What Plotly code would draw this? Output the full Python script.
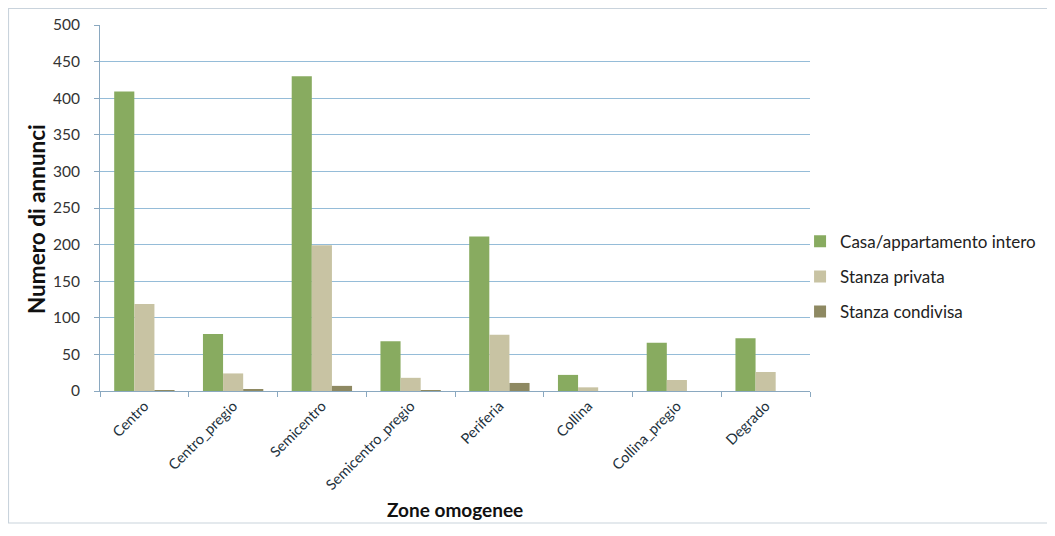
import plotly.graph_objects as go

categories = ["Centro", "Centro_pregio", "Semicentro", "Semicentro_pregio",
              "Periferia", "Collina", "Collina_pregio", "Degrado"]
casa_intera = [409, 78, 430, 68, 211, 22, 66, 72]
stanza_privata = [119, 24, 199, 18, 77, 5, 15, 26]
stanza_condivisa = [1, 2, 7, 0.5, 11, 0, 0, 0]

series_names = ["Casa/appartamento intero", "Stanza privata", "Stanza condivisa"]
series_values = [casa_intera, stanza_privata, stanza_condivisa]
colors = ["#88ab60", "#c8c3a3", "#8e8962"]

fig = go.Figure()
for name, vals, col in zip(series_names, series_values, colors):
    fig.add_trace(go.Bar(x=categories, y=vals, name=name, marker_color=col,
                         marker_line_width=0, legendgroup=name))

font_family = "Lato, Open Sans, sans-serif"
axis_col = "#8aa8c0"
fig.update_layout(
    width=1042, height=520,
    margin=dict(l=92, r=240, t=17, b=137, autoexpand=False),
    paper_bgcolor="white", plot_bgcolor="white",
    barmode="group", bargap=0.32, bargroupgap=0,
    font=dict(family=font_family, size=12, color="#2b2b2b"),
    showlegend=True,
    legend=dict(x=0.986, y=0.312, xanchor="left", yanchor="middle",
                traceorder="grouped", tracegroupgap=10, bgcolor="rgba(0,0,0,0)",
                font=dict(size=17, color="#222"), itemwidth=30),
    xaxis=dict(
        tickangle=-45, tickson="boundaries", ticks="outside", ticklen=5,
        tickcolor=axis_col, showline=True, linecolor=axis_col, linewidth=1,
        tickfont=dict(size=14.5, color="#22313c"), automargin=False,
    ),
    yaxis=dict(
        range=[0, 500], dtick=50, ticks="outside", ticklen=5, tickcolor=axis_col,
        showline=True, linecolor=axis_col, linewidth=1,
        showgrid=True, gridcolor="#95bcd8", gridwidth=1.2,
        tickfont=dict(size=15.5, color="#333"), ticklabelstandoff=11,
        zeroline=False, automargin=False,
    ),
    annotations=[
        dict(text="<b>Zone omogenee</b>", xref="paper", yref="paper", x=0.5, y=-0.325,
             xanchor="center", yanchor="middle", showarrow=False,
             font=dict(size=19, color="#111")),
        dict(text="<b>Numero di annunci</b>", xref="paper", yref="paper", x=-0.0887, y=0.47,
             xanchor="center", yanchor="middle", showarrow=False, textangle=-90,
             font=dict(size=22.5, color="#111")),
    ],
    shapes=[dict(type="rect", xref="paper", yref="paper",
                 x0=-0.1289, x1=1.6, y0=-0.3607, y1=1.0451,
                 line=dict(color="#c9d3dc", width=1.2), layer="below")],
)

fig.write_html("out.html")
